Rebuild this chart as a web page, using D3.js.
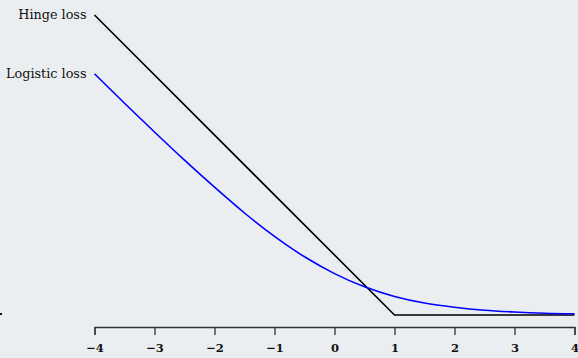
<!DOCTYPE html>
<html>
<head>
<meta charset="utf-8">
<script src="https://cdn.jsdelivr.net/npm/d3@7"></script>
<style>
  body { margin: 0; background: #ebeef0; }
  svg { display: block; }
  text { font-family: "DejaVu Serif", serif; fill: #111; }
</style>
</head>
<body>
<svg width="578" height="358"></svg>
<script>
// margin x values
let xTicks = [-4, -3, -2, -1, 0, 1, 2, 3, 4];
let tickLabels = ["\u22124", "\u22123", "\u22122", "\u22121", "0", "1", "2", "3", "4"];

// hinge loss corners
let hinge_x = [-4, 1, 4];
let hinge_y = [5, 0, 0];

// logistic loss
let logistic_x = [-4, -3.5, -3, -2.5, -2, -1.5, -1, -0.5, 0, 0.5, 1, 1.5, 2, 2.5, 3, 3.5, 4];
let logistic_y = [4.02, 3.53, 3.05, 2.58, 2.13, 1.70, 1.31, 0.97, 0.69, 0.47, 0.31, 0.20, 0.13, 0.08, 0.05, 0.03, 0.02];

let seriesNames = ["Hinge loss", "Logistic loss"];
let seriesColors = ["#000000", "#0000ff"];

let svg = d3.select('svg');

let x = d3.scaleLinear().domain([-4, 4]).range([94.5, 574.5]);
let y = d3.scaleLinear().domain([0, 5]).range([315, 15]);

let line = d3.line()
    .x(function (d) { return x(d[0]); })
    .y(function (d) { return y(d[1]); });

let series = [
    d3.zip(hinge_x, hinge_y),
    d3.zip(logistic_x, logistic_y)
];

svg.selectAll('path.loss')
    .data(series)
    .join('path')
    .attr('class', 'loss')
    .attr('fill', 'none')
    .attr('stroke', function (d, i) { return seriesColors[i]; })
    .attr('stroke-width', 1.6)
    .attr('d', function (d, i) { return i == 0 ? line(d) : line.curve(d3.curveMonotoneX)(d); });

// labels at the left end of each curve
svg.selectAll('text.name')
    .data(series)
    .join('text')
    .attr('class', 'name')
    .attr('x', x(-4) - 8)
    .attr('y', function (d) { return y(d[0][1]) + 4; })
    .attr('text-anchor', 'end')
    .attr('font-size', 12.8)
    .text(function (d, i) { return seriesNames[i]; });

// axis
let axis = d3.axisBottom(x)
    .tickValues(xTicks)
    .tickSize(8)
    .tickPadding(9)
    .tickFormat(function (d, i) { return tickLabels[i]; });

let g = svg.append('g')
    .attr('transform', 'translate(0,327)')
    .call(axis);
g.select('.domain').attr('stroke', '#333').attr('stroke-width', 1.3);
g.selectAll('.tick line').attr('stroke', '#333').attr('stroke-width', 1.3);
g.selectAll('.tick text')
    .attr('font-family', '"DejaVu Serif", serif')
    .attr('font-size', 11.5)
    .attr('font-weight', 'bold')
    .attr('fill', '#111');

// clipped mark at the left edge
svg.append('rect')
    .attr('x', 0).attr('y', 313)
    .attr('width', 2).attr('height', 2)
    .attr('fill', '#111');
</script>
</body>
</html>
